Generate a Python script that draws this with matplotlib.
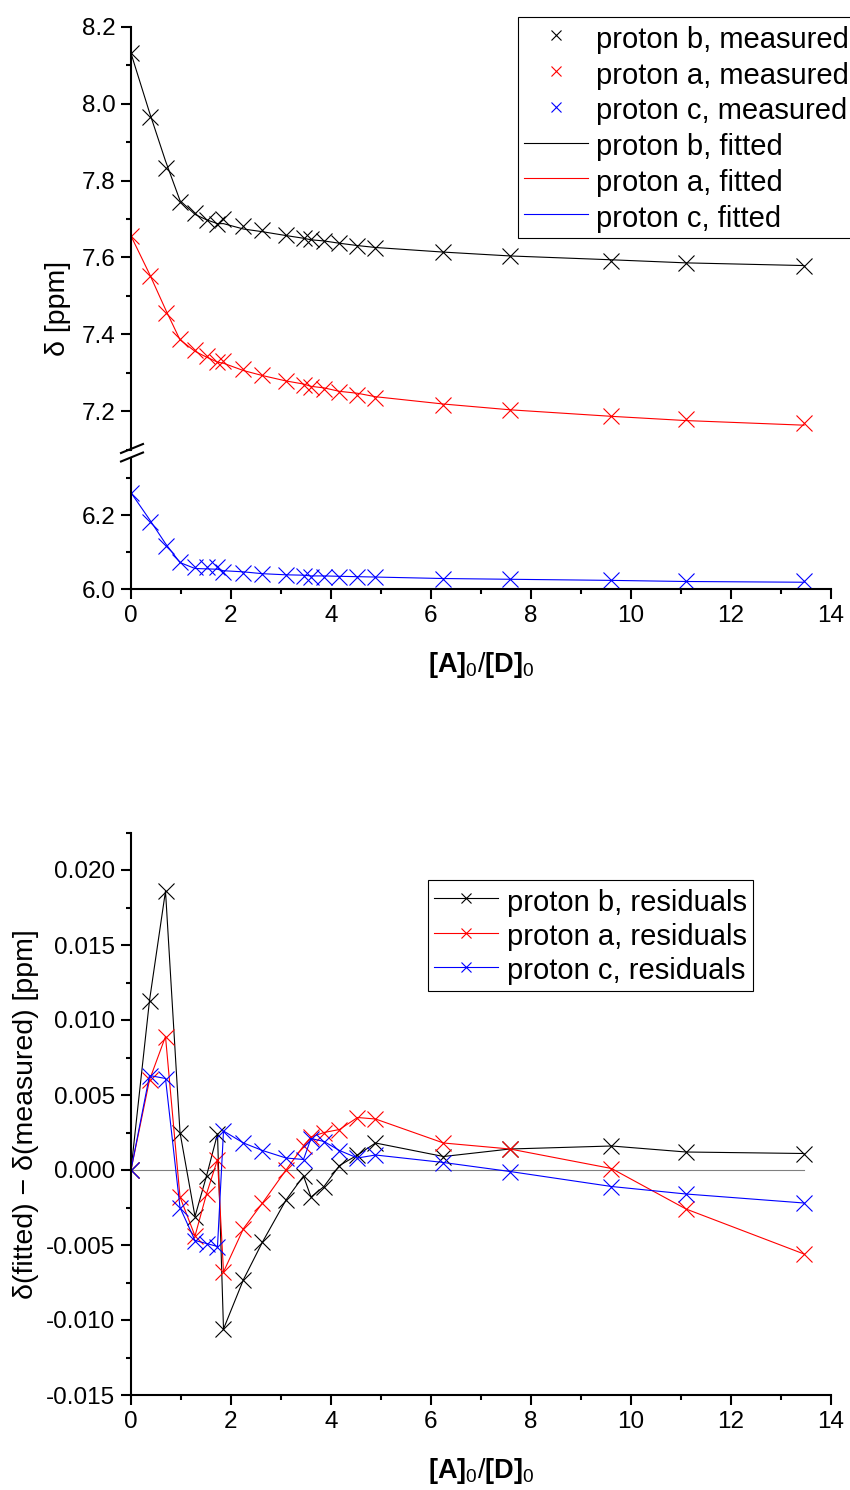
import matplotlib
matplotlib.use("Agg")
import matplotlib.pyplot as plt
from matplotlib.lines import Line2D
from matplotlib.ticker import MultipleLocator, FormatStrFormatter

plt.rcParams['font.family'] = ['Liberation Sans', 'DejaVu Sans']
plt.rcParams['mathtext.fontset'] = 'custom'
plt.rcParams['mathtext.rm'] = 'Liberation Sans'
plt.rcParams['mathtext.bf'] = 'Liberation Sans:bold'
plt.rcParams['mathtext.it'] = 'Liberation Sans:italic'
plt.rcParams['axes.unicode_minus'] = False

# ---------------- data ----------------
ratio = [0, 0.37, 0.69, 0.98, 1.28, 1.51, 1.73, 1.85, 2.25, 2.63, 3.10, 3.45,
         3.60, 3.86, 4.17, 4.53, 4.89, 6.25, 7.58, 9.61, 11.10, 13.46]

b_measured = [8.131, 7.966, 7.832, 7.745, 7.715, 7.698, 7.686, 7.699, 7.681, 7.672, 7.659,
              7.650, 7.648, 7.644, 7.637, 7.630, 7.624, 7.613, 7.603, 7.592, 7.585, 7.578]
a_measured = [7.656, 7.551, 7.456, 7.388, 7.360, 7.343, 7.327, 7.332, 7.310, 7.295, 7.279,
              7.269, 7.263, 7.258, 7.249, 7.243, 7.235, 7.217, 7.203, 7.187, 7.179, 7.170]
c_measured = [6.260, 6.182, 6.117, 6.074, 6.061, 6.060, 6.059, 6.047, 6.045, 6.041, 6.038,
              6.037, 6.034, 6.034, 6.034, 6.033, 6.032, 6.028, 6.027, 6.025, 6.023, 6.021]

b_fitted = [8.131, 7.977, 7.851, 7.748, 7.712, 7.698, 7.688, 7.688, 7.674, 7.667, 7.657,
            7.650, 7.646, 7.643, 7.637, 7.631, 7.626, 7.614, 7.604, 7.594, 7.586, 7.579]
a_fitted = [7.656, 7.557, 7.465, 7.386, 7.356, 7.341, 7.328, 7.325, 7.306, 7.293, 7.279,
            7.271, 7.265, 7.261, 7.252, 7.247, 7.238, 7.219, 7.204, 7.187, 7.176, 7.164]
c_fitted = [6.260, 6.188, 6.123, 6.072, 6.056, 6.055, 6.054, 6.050, 6.047, 6.042, 6.039,
            6.038, 6.036, 6.036, 6.035, 6.034, 6.033, 6.029, 6.027, 6.024, 6.021, 6.019]

b_resid = [0, 0.0113, 0.0186, 0.0025, -0.0031, -0.0004, 0.0024, -0.0106, -0.0073, -0.0048, -0.0020,
           -0.0004, -0.0018, -0.0011, 0.0003, 0.0010, 0.0018, 0.0009, 0.0014, 0.0016, 0.0012, 0.0011]
a_resid = [0, 0.0060, 0.0089, -0.0018, -0.0044, -0.0016, 0.0007, -0.0068, -0.0039, -0.0022, 0.0000,
           0.0016, 0.0022, 0.0025, 0.0027, 0.0035, 0.0034, 0.0018, 0.0014, 0.0001, -0.0026, -0.0056]
c_resid = [0, 0.0063, 0.0061, -0.0025, -0.0047, -0.0049, -0.0051, 0.0026, 0.0018, 0.0013, 0.0008,
           0.0007, 0.0021, 0.0019, 0.0013, 0.0008, 0.0010, 0.0005, -0.0001, -0.0011, -0.0016, -0.0022]

x_ticks = [0, 2, 4, 6, 8, 10, 12, 14]
# --------------------------------------

W, H = 850, 1490
fig = plt.figure(figsize=(W / 100, H / 100), dpi=100)

def fx(px):
    return px / W

def fy(py):
    return 1 - py / H

TICK_FS = 17.5
LABEL_FS = 20.5
XLABEL_FS = 19.5
LEG_FS = 21
SPINE_LW = 1.5
MS = 11
MEW = 0.8
LW = 0.8

left, right = 131, 831

def style_axis(ax, show_x=True):
    for s in ['top', 'right']:
        ax.spines[s].set_visible(False)
    ax.spines['left'].set_linewidth(SPINE_LW)
    ax.spines['bottom'].set_linewidth(SPINE_LW)
    if not show_x:
        ax.spines['bottom'].set_visible(False)
    ax.tick_params(which='major', direction='out', length=7.2, width=SPINE_LW,
                   labelsize=TICK_FS, pad=4)
    ax.tick_params(which='minor', direction='out', length=3.6, width=SPINE_LW)
    ax.set_xlim(0, 14)
    ax.set_xticks(x_ticks)
    ax.xaxis.set_minor_locator(MultipleLocator(1))
    if not show_x:
        ax.tick_params(axis='x', which='both', bottom=False, labelbottom=False)

# upper segment of broken axis: 7.1 .. 8.2 (px 449.8 .. 26.7)
ax_hi = fig.add_axes([fx(left), fy(449.8), fx(right - left), (449.8 - 26.7) / H])
# lower segment: 6.0 .. 6.35 (px 589.3 .. 459.3)
ax_lo = fig.add_axes([fx(left), fy(589.3), fx(right - left), (589.3 - 459.3) / H])
# residual panel: -0.015 .. 0.0225 (px 1395 .. 832.5)
ax_r = fig.add_axes([fx(left), fy(1395), fx(right - left), (1395 - 832.5) / H])

for ax in (ax_hi, ax_lo, ax_r):
    ax.patch.set_alpha(0)

style_axis(ax_hi, show_x=False)
style_axis(ax_lo)
style_axis(ax_r)

ax_hi.set_ylim(7.1, 8.2)
ax_hi.yaxis.set_minor_locator(MultipleLocator(0.1))
ax_hi.set_yticks([7.2, 7.4, 7.6, 7.8, 8.0, 8.2])
ax_hi.yaxis.set_major_formatter(FormatStrFormatter('%.1f'))

ax_lo.set_ylim(6.0, 6.35)
ax_lo.set_yticks([6.0, 6.2])
ax_lo.set_yticks([6.1, 6.3], minor=True)
ax_lo.yaxis.set_major_formatter(FormatStrFormatter('%.1f'))

ax_r.set_ylim(-0.015, 0.0225)
ax_r.set_yticks([-0.015, -0.010, -0.005, 0.0, 0.005, 0.010, 0.015, 0.020])
ax_r.yaxis.set_minor_locator(MultipleLocator(0.0025))
ax_r.yaxis.set_major_formatter(FormatStrFormatter('%.3f'))

# measured (markers) and fitted (lines)
h_bm, = ax_hi.plot(ratio, b_measured, ls='none', marker='x', ms=MS, mew=MEW, color='black')
h_am, = ax_hi.plot(ratio, a_measured, ls='none', marker='x', ms=MS, mew=MEW, color='red')
h_cm, = ax_lo.plot(ratio, c_measured, ls='none', marker='x', ms=MS, mew=MEW, color='blue')
h_bf, = ax_hi.plot(ratio, b_fitted, '-', lw=LW, color='black')
h_af, = ax_hi.plot(ratio, a_fitted, '-', lw=LW, color='red')
h_cf, = ax_lo.plot(ratio, c_fitted, '-', lw=LW, color='blue')

leg1 = fig.legend([h_bm, h_am, h_cm, h_bf, h_af, h_cf],
                  ['proton b, measured', 'proton a, measured', 'proton c, measured',
                   'proton b, fitted', 'proton a, fitted', 'proton c, fitted'],
                  loc='upper left', bbox_to_anchor=(fx(518.3), fy(17.3)),
                  bbox_transform=fig.transFigure, fontsize=LEG_FS, frameon=True,
                  fancybox=False, edgecolor='black', framealpha=1, borderpad=0.18,
                  labelspacing=0.16, handleheight=1.24, handlelength=2.2,
                  handletextpad=0.3, borderaxespad=0, markerscale=0.65)
leg1.get_frame().set_linewidth(0.8)

# break marks
for dy in (0, 8.5):
    fig.add_artist(Line2D([fx(121), fx(143)], [fy(453 + dy), fy(444 + dy)],
                          color='black', lw=1.5, transform=fig.transFigure))

fig.text(fx(58), fy(308), 'δ [ppm]', rotation=90, ha='center', va='center',
         fontsize=LABEL_FS)
xlabel = r'$\mathbf{[A]}_{\mathrm{0}}\mathrm{/}\mathbf{[D]}_{\mathrm{0}}$'
ax_lo.set_xlabel(xlabel, fontsize=XLABEL_FS, labelpad=17)

# residuals
ax_r.plot([ratio[0], ratio[-1]], [0, 0], '-', color='#808080', lw=0.8)
h_br, = ax_r.plot(ratio, b_resid, '-', marker='x', ms=MS, mew=MEW, lw=LW, color='black')
h_ar, = ax_r.plot(ratio, a_resid, '-', marker='x', ms=MS, mew=MEW, lw=LW, color='red')
h_cr, = ax_r.plot(ratio, c_resid, '-', marker='x', ms=MS, mew=MEW, lw=LW, color='blue')

leg2 = fig.legend([h_br, h_ar, h_cr],
                  ['proton b, residuals', 'proton a, residuals', 'proton c, residuals'],
                  loc='upper left', bbox_to_anchor=(fx(428.3), fy(880)),
                  bbox_transform=fig.transFigure, fontsize=LEG_FS, frameon=True,
                  fancybox=False, edgecolor='black', framealpha=1, borderpad=0.2,
                  labelspacing=0.12, handleheight=1.2, handlelength=2.2,
                  handletextpad=0.3, borderaxespad=0, markerscale=0.65)
leg2.get_frame().set_linewidth(0.8)

fig.text(fx(26), fy(1114), 'δ(fitted) − δ(measured) [ppm]', rotation=90,
         ha='center', va='center', fontsize=LABEL_FS)
ax_r.set_xlabel(xlabel, fontsize=XLABEL_FS, labelpad=17)

fig.savefig('out.png', dpi=100)
